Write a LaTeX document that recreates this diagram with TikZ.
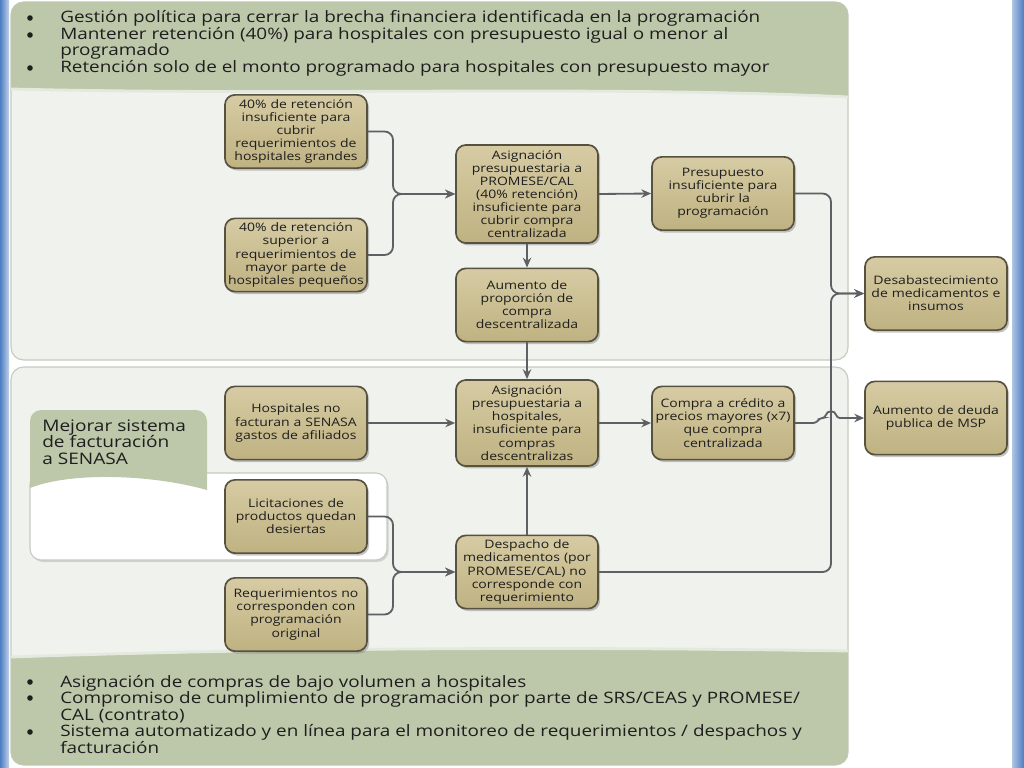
\documentclass[tikz,border=0pt]{standalone}
\usepackage{fontspec}
\setmainfont{Open Sans}[FakeStretch=1.2]
\usetikzlibrary{arrows.meta,shadows}

\definecolor{bandgreen}{HTML}{BCC8A9}
\definecolor{panelfill}{HTML}{F0F2EE}
\definecolor{panelline}{HTML}{C5CCBF}
\definecolor{boxtan}{HTML}{BFB282}
\definecolor{boxlight}{HTML}{D6CBA3}
\definecolor{boxline}{HTML}{57513F}
\definecolor{arrowgrey}{HTML}{5E6063}
\definecolor{edgeblue}{HTML}{4D7DC2}
\definecolor{textdark}{HTML}{1E1E1E}

\tikzset{
  causa/.style={draw=boxline, line width=1.2pt, rounded corners=7pt,
    top color=boxlight, bottom color=boxtan, text=textdark,
    minimum width=3.55cm, minimum height=1.83cm, text width=3.5cm,
    align=center, inner sep=0.5pt,
    font=\fontsize{8.3}{9.3}\selectfont,
    drop shadow={shadow xshift=0.05cm, shadow yshift=-0.06cm, fill=black!50, opacity=0.45}},
  flecha/.style={draw=arrowgrey, line width=1.3pt, rounded corners=6pt,
    -{Stealth[length=7pt,width=6pt]}},
  vineta/.style={anchor=base west, inner sep=0pt, text=textdark, align=left,
    font=\fontsize{11.2}{11.9}\selectfont},
  punto/.style={circle, fill=textdark, inner sep=0pt, minimum size=0.14cm},
}

\begin{document}
\begin{tikzpicture}[x=0.025cm, y=-0.025cm]

% page and blue edges
    \useasboundingbox (0,0) rectangle (1024,768);
    \fill[white] (0,0) rectangle (1024,768);
    \fill[left color=edgeblue, right color=edgeblue!35!white] (0,0) rectangle (9,768);
    \fill[left color=edgeblue!45!white, right color=edgeblue] (1012,0) rectangle (1024,768);

% upper panel with green band
    \draw[panelline, fill=panelfill, line width=0.8pt, rounded corners=9] (11,2) rectangle (848,360);
    \fill[bandgreen] (11,88) [rounded corners=9] -- (11,2) -- (848,2) [sharp corners] -- (848,96)
        .. controls (600,84) and (300,95) .. (11,88) -- cycle;
    \draw[white!60!bandgreen, line width=2pt] (848,97) .. controls (600,85) and (300,96) .. (11,89);

% lower panel with green band
    \draw[panelline, fill=panelfill, line width=0.8pt, rounded corners=9] (11,367) rectangle (848,765);
    \fill[bandgreen] (11,658) .. controls (300,648) and (600,648) .. (848,652)
        [rounded corners=9] -- (848,765) -- (11,765) [sharp corners] -- cycle;
    \draw[white!60!bandgreen, line width=2pt] (11,657) .. controls (300,647) and (600,647) .. (848,651);

% bullets top (multi-line nodes sit on their last baseline)
    \node[punto] (p1) at (30,18) {};
    \node[vineta] (t1) at (60,23) {Gestión política para cerrar la brecha financiera identificada en la programación};
    \node[punto] (p2) at (30,35) {};
    \node[vineta] (t2) at (60,56) {Mantener retención (40\%) para hospitales con presupuesto igual o menor al\\programado};
    \node[punto] (p3) at (30,68) {};
    \node[vineta] (t3) at (60,73) {Retención solo de el monto programado para hospitales con presupuesto mayor};

% bullets bottom
    \node[punto] (q1) at (30,682) {};
    \node[vineta] (s1) at (60,687) {Asignación de compras de bajo volumen a hospitales};
    \node[punto] (q2) at (30,698) {};
    \node[vineta] (s2) at (60,720) {Compromiso de cumplimiento de programación por parte de SRS/CEAS y PROMESE/\\CAL (contrato)};
    \node[punto] (q3) at (30,732) {};
    \node[vineta] (s3) at (60,753) {Sistema automatizado y en línea para el monitoreo de requerimientos / despachos y\\facturación};

% callout
    \draw[panelline, fill=white, line width=0.8pt, rounded corners=8,
        drop shadow={shadow xshift=0.04cm, shadow yshift=-0.05cm, fill=black!40, opacity=0.35}]
        (30,473) rectangle (387,560);
    \fill[bandgreen] (30,488) [rounded corners=8] -- (30,410) -- (207,410) [sharp corners] -- (207,490)
        .. controls (150,474) and (70,472) .. (30,488) -- cycle;
    \node[anchor=base west, inner sep=0pt, align=left, text=textdark,
        font=\fontsize{11.3}{11.4}\selectfont] (mejorar) at (42,464) {Mejorar sistema\\de facturación\\a SENASA};

% boxes, upper panel
    \node[causa] (ret1) at (296,131.5) {40\% de retención\\insuficiente para\\cubrir\\requerimientos de\\hospitales grandes};
    \node[causa] (ret2) at (296,255) {40\% de retención\\superior a\\requerimientos de\\mayor parte de\\hospitales pequeños};
    \node[causa, minimum height=2.45cm] (asigP) at (527,194) {Asignación\\presupuestaria a\\PROMESE/CAL\\(40\% retención)\\insuficiente para\\cubrir compra\\centralizada};
    \node[causa] (presu) at (723,193.5) {Presupuesto\\insuficiente para\\cubrir la\\programación};
    \node[causa] (aumD) at (527,305) {Aumento de\\proporción de\\compra\\descentralizada};
    \node[causa] (desab) at (936,293.5) {Desabastecimiento\\de medicamentos e\\insumos};

% boxes, lower panel
    \node[causa] (hosp) at (296,423) {Hospitales no\\facturan a SENASA\\gastos de afiliados};
    \node[causa, minimum height=2.15cm] (asigH) at (527,423) {Asignación\\presupuestaria a\\hospitales,\\insuficiente para\\compras\\descentralizas};
    \node[causa] (compra) at (723,423) {Compra a crédito a\\precios mayores (x7)\\que compra\\centralizada};
    \node[causa] (deuda) at (936,418) {Aumento de deuda\\publica de MSP};
    \node[causa] (licit) at (296,516.5) {Licitaciones de\\productos quedan\\desiertas};
    \node[causa] (desp) at (527,572) {Despacho de\\medicamentos (por\\PROMESE/CAL) no\\corresponde con\\requerimiento};
    \node[causa] (reqs) at (296,614.5) {Requerimientos no\\corresponden con\\programación\\original};

% junctions
    \coordinate (jsup) at (393,194);
    \coordinate (jinf) at (393,572);
    \coordinate (jder) at (831,293.5);

% connectors
    \draw[flecha] (ret1.east) -| (jsup) -- (asigP.west);
    \draw[flecha] (ret2.east) -| (jsup) -- (asigP.west);
    \draw[flecha] (asigP.east) -- (presu.west);
    \draw[flecha] (asigP.south) -- (aumD.north);
    \draw[flecha] (presu.east) -| (jder) -- (desab.west);
    \draw[flecha] (desp.east) -| (jder) -- (desab.west);
    \draw[flecha] (aumD.south) -- (asigH.north);
    \draw[flecha] (hosp.east) -- (asigH.west);
    \draw[flecha] (asigH.east) -- (compra.west);
    \draw[flecha] (desp.north) -- (asigH.south);
    \draw[flecha] (licit.east) -| (jinf) -- (desp.west);
    \draw[flecha] (reqs.east) -| (jinf) -- (desp.west);
    \draw[flecha, rounded corners=2pt] (compra.east) -- (816,423) -- (820,418) -- (825,418)
        .. controls (827,410) and (835,410) .. (837,418) -- (deuda.west);

\end{tikzpicture}
\end{document}
